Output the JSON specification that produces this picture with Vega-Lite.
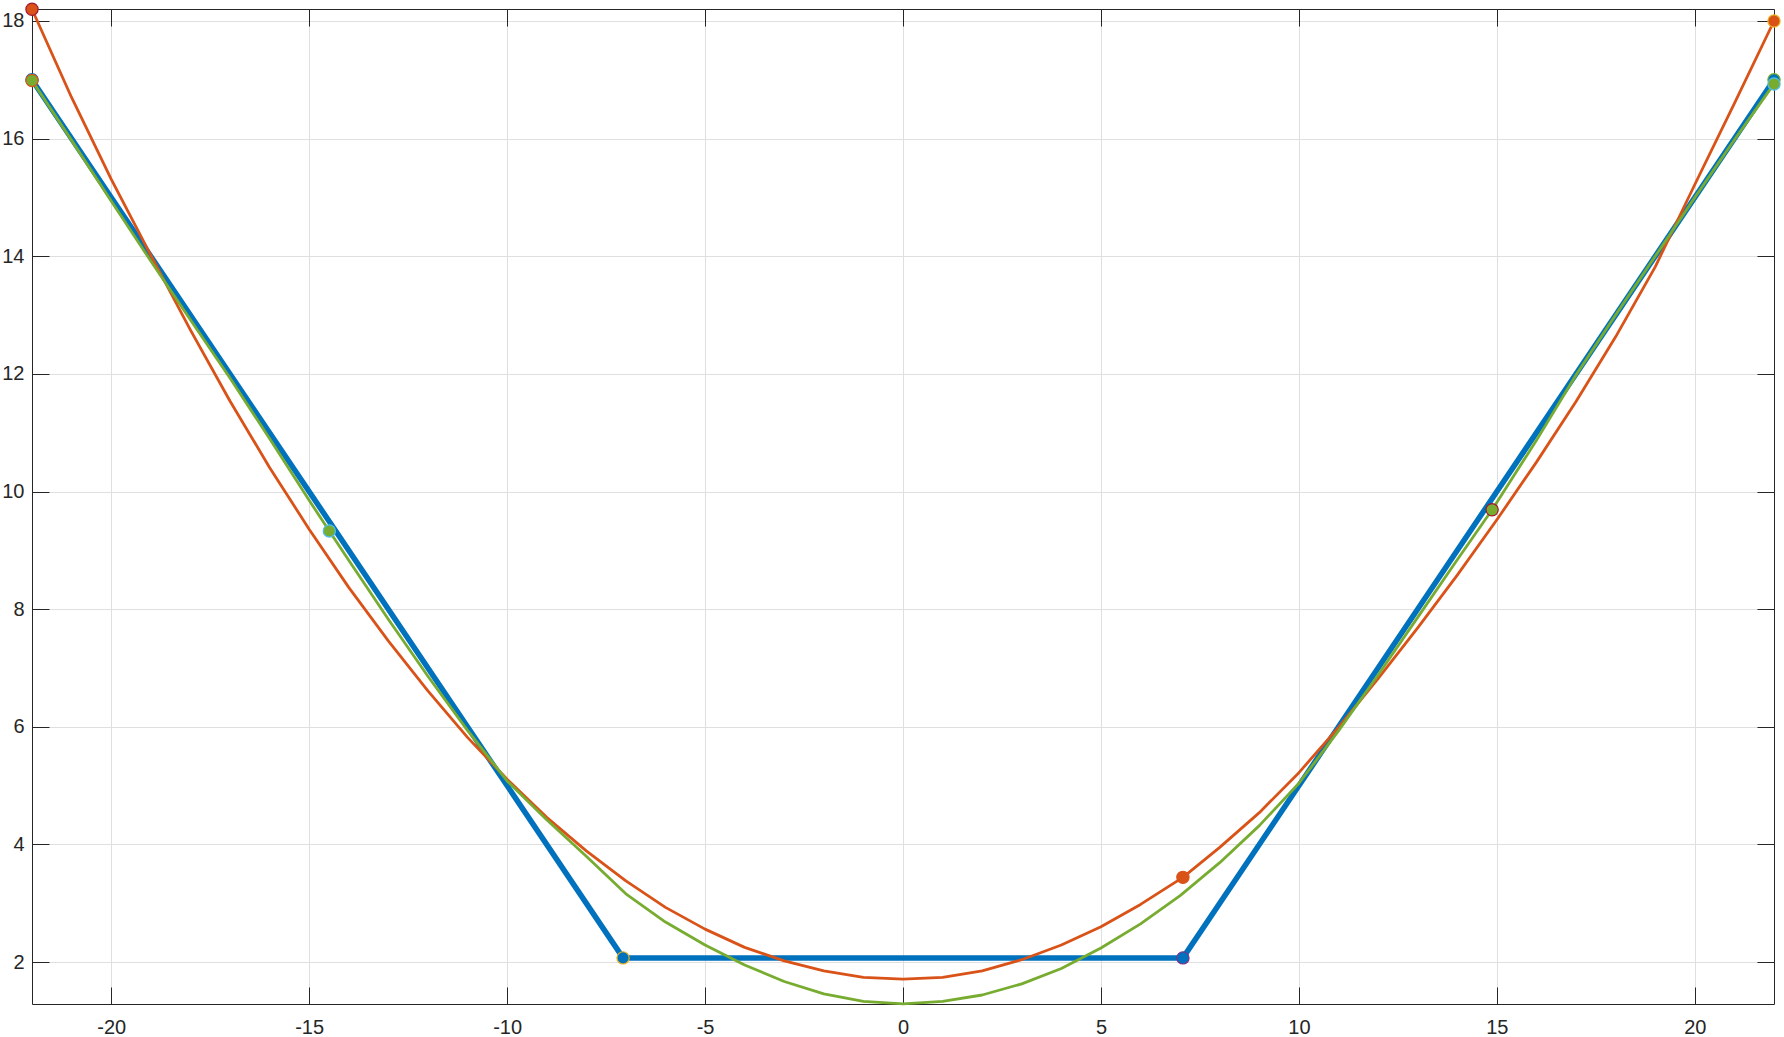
{
  "$schema": "https://vega.github.io/schema/vega-lite/v6.json",
  "width": 1742,
  "height": 995,
  "autosize": {"type": "none"},
  "padding": {"left": 32, "top": 9, "right": 10, "bottom": 33},
  "background": "white",
  "config": {"view": {"stroke": null}, "font": "Liberation Sans"},
  "datasets": {
    "curves": [
      {"s": "blue", "x": -22, "y": 17},
      {"s": "blue", "x": -7.071, "y": 2.071},
      {"s": "blue", "x": 7.071, "y": 2.071},
      {"s": "blue", "x": 22, "y": 17},
      {"s": "red", "x": -22, "y": 18.2},
      {"s": "red", "x": -21, "y": 16.7},
      {"s": "red", "x": -20, "y": 15.31},
      {"s": "red", "x": -19, "y": 14.02},
      {"s": "red", "x": -18, "y": 12.75},
      {"s": "red", "x": -17, "y": 11.54},
      {"s": "red", "x": -16, "y": 10.41},
      {"s": "red", "x": -15, "y": 9.36},
      {"s": "red", "x": -14, "y": 8.37},
      {"s": "red", "x": -13, "y": 7.46},
      {"s": "red", "x": -12, "y": 6.61},
      {"s": "red", "x": -11, "y": 5.82},
      {"s": "red", "x": -10, "y": 5.11},
      {"s": "red", "x": -9, "y": 4.46},
      {"s": "red", "x": -8, "y": 3.89},
      {"s": "red", "x": -7, "y": 3.38},
      {"s": "red", "x": -6, "y": 2.93},
      {"s": "red", "x": -5, "y": 2.56},
      {"s": "red", "x": -4, "y": 2.25},
      {"s": "red", "x": -3, "y": 2.02},
      {"s": "red", "x": -2, "y": 1.85},
      {"s": "red", "x": -1, "y": 1.74},
      {"s": "red", "x": 0, "y": 1.71},
      {"s": "red", "x": 1, "y": 1.74},
      {"s": "red", "x": 2, "y": 1.85},
      {"s": "red", "x": 3, "y": 2.04},
      {"s": "red", "x": 4, "y": 2.29},
      {"s": "red", "x": 5, "y": 2.6},
      {"s": "red", "x": 6, "y": 2.98},
      {"s": "red", "x": 7.07, "y": 3.44},
      {"s": "red", "x": 8, "y": 3.95},
      {"s": "red", "x": 9, "y": 4.54},
      {"s": "red", "x": 10, "y": 5.22},
      {"s": "red", "x": 11, "y": 5.99},
      {"s": "red", "x": 12, "y": 6.82},
      {"s": "red", "x": 13, "y": 7.68},
      {"s": "red", "x": 14, "y": 8.58},
      {"s": "red", "x": 15, "y": 9.52},
      {"s": "red", "x": 16, "y": 10.5},
      {"s": "red", "x": 17, "y": 11.53},
      {"s": "red", "x": 18, "y": 12.63},
      {"s": "red", "x": 19, "y": 13.82},
      {"s": "red", "x": 20, "y": 15.22},
      {"s": "red", "x": 21, "y": 16.6},
      {"s": "red", "x": 22, "y": 18.0},
      {"s": "green", "x": -22, "y": 16.99},
      {"s": "green", "x": -21, "y": 15.97},
      {"s": "green", "x": -20, "y": 14.94},
      {"s": "green", "x": -19, "y": 13.92},
      {"s": "green", "x": -18, "y": 12.92},
      {"s": "green", "x": -17, "y": 11.93},
      {"s": "green", "x": -16, "y": 10.9},
      {"s": "green", "x": -15, "y": 9.85},
      {"s": "green", "x": -14.49, "y": 9.33},
      {"s": "green", "x": -14, "y": 8.83},
      {"s": "green", "x": -13, "y": 7.83},
      {"s": "green", "x": -12, "y": 6.86},
      {"s": "green", "x": -11, "y": 5.94},
      {"s": "green", "x": -10, "y": 5.08},
      {"s": "green", "x": -9, "y": 4.42},
      {"s": "green", "x": -8, "y": 3.8},
      {"s": "green", "x": -7, "y": 3.16},
      {"s": "green", "x": -6, "y": 2.68},
      {"s": "green", "x": -5, "y": 2.29},
      {"s": "green", "x": -4, "y": 1.95},
      {"s": "green", "x": -3, "y": 1.67},
      {"s": "green", "x": -2, "y": 1.46},
      {"s": "green", "x": -1, "y": 1.33},
      {"s": "green", "x": 0, "y": 1.29},
      {"s": "green", "x": 1, "y": 1.33},
      {"s": "green", "x": 2, "y": 1.44},
      {"s": "green", "x": 3, "y": 1.63},
      {"s": "green", "x": 4, "y": 1.89},
      {"s": "green", "x": 5, "y": 2.24},
      {"s": "green", "x": 6, "y": 2.65},
      {"s": "green", "x": 7, "y": 3.13},
      {"s": "green", "x": 8, "y": 3.69},
      {"s": "green", "x": 9, "y": 4.32},
      {"s": "green", "x": 10, "y": 5.04},
      {"s": "green", "x": 11, "y": 5.93},
      {"s": "green", "x": 12, "y": 6.88},
      {"s": "green", "x": 13, "y": 7.86},
      {"s": "green", "x": 14, "y": 8.84},
      {"s": "green", "x": 14.88, "y": 9.69},
      {"s": "green", "x": 16, "y": 10.87},
      {"s": "green", "x": 17, "y": 11.98},
      {"s": "green", "x": 18, "y": 13.0},
      {"s": "green", "x": 19, "y": 14.0},
      {"s": "green", "x": 20, "y": 15.0},
      {"s": "green", "x": 21, "y": 15.98},
      {"s": "green", "x": 22, "y": 16.93}
    ],
    "markers": [
      {"s": "blue", "x": -22, "y": 17, "edge": 1},
      {"s": "blue", "x": -7.071, "y": 2.071, "edge": 3},
      {"s": "blue", "x": 7.071, "y": 2.071, "edge": 4},
      {"s": "blue", "x": 22, "y": 17, "edge": 5},
      {"s": "red", "x": -22, "y": 18.2, "edge": 7},
      {"s": "red", "x": 7.07, "y": 3.44, "edge": 2},
      {"s": "red", "x": 22, "y": 18.0, "edge": 3},
      {"s": "green", "x": -22, "y": 16.99, "edge": 2},
      {"s": "green", "x": -14.49, "y": 9.33, "edge": 6},
      {"s": "green", "x": 14.88, "y": 9.69, "edge": 7},
      {"s": "green", "x": 22, "y": 16.93, "edge": 6}
    ]
  },
  "resolve": {"axis": {"x": "independent", "y": "independent"}},
  "layer": [
    {
      "data": {"name": "curves"},
      "transform": [{"filter": "datum.s === 'blue'"}],
      "mark": {"type": "line", "color": "#0072BD", "strokeWidth": 5.5, "strokeJoin": "round", "strokeCap": "round"},
      "encoding": {
        "x": {"field": "x", "type": "quantitative", "scale": {"domain": [-22, 22], "nice": false, "zero": false},
          "axis": {"orient": "bottom", "values": [-20, -15, -10, -5, 0, 5, 10, 15, 20], "title": null,
            "labelExpr": "datum.value + ''",
            "grid": true, "gridColor": "#dfdfdf", "gridWidth": 1,
            "domain": true, "domainColor": "#262626", "domainWidth": 1,
            "ticks": true, "tickSize": -17, "tickColor": "#262626", "tickWidth": 1,
            "labelFontSize": 20, "labelColor": "#262626", "labelFont": "Liberation Sans", "labelPadding": 30,
            "labelFlush": false, "labelOverlap": false, "zindex": 0}},
        "y": {"field": "y", "type": "quantitative", "scale": {"domain": [1.287, 18.204], "nice": false, "zero": false},
          "axis": {"orient": "left", "values": [2, 4, 6, 8, 10, 12, 14, 16, 18], "title": null,
            "labelExpr": "datum.value + ''",
            "grid": true, "gridColor": "#dfdfdf", "gridWidth": 1,
            "domain": true, "domainColor": "#262626", "domainWidth": 1,
            "ticks": true, "tickSize": -17, "tickColor": "#262626", "tickWidth": 1,
            "labelFontSize": 20, "labelColor": "#262626", "labelFont": "Liberation Sans", "labelPadding": 25,
            "labelFlush": false, "labelOverlap": false, "zindex": 0}}
      }
    },
    {
      "data": {"name": "curves"},
      "transform": [{"filter": "datum.s === 'red'"}],
      "mark": {"type": "line", "color": "#D95319", "strokeWidth": 2.8, "strokeJoin": "round"},
      "encoding": {
        "x": {"field": "x", "type": "quantitative", "scale": {"domain": [-22, 22], "nice": false, "zero": false},
          "axis": {"orient": "top", "values": [-20, -15, -10, -5, 0, 5, 10, 15, 20], "title": null,
            "grid": false, "labels": false, "domain": true, "domainColor": "#262626", "domainWidth": 1,
            "ticks": true, "tickSize": -17, "tickColor": "#262626", "tickWidth": 1, "zindex": 0}},
        "y": {"field": "y", "type": "quantitative", "scale": {"domain": [1.287, 18.204], "nice": false, "zero": false},
          "axis": {"orient": "right", "values": [2, 4, 6, 8, 10, 12, 14, 16, 18], "title": null,
            "grid": false, "labels": false, "domain": true, "domainColor": "#262626", "domainWidth": 1,
            "ticks": true, "tickSize": -17, "tickColor": "#262626", "tickWidth": 1, "zindex": 0}}
      }
    },
    {
      "data": {"name": "curves"},
      "transform": [{"filter": "datum.s === 'green'"}],
      "mark": {"type": "line", "color": "#77AC30", "strokeWidth": 2.8, "strokeJoin": "round"},
      "encoding": {
        "x": {"field": "x", "type": "quantitative", "scale": {"domain": [-22, 22], "nice": false, "zero": false}, "axis": null},
        "y": {"field": "y", "type": "quantitative", "scale": {"domain": [1.287, 18.204], "nice": false, "zero": false}, "axis": null}
      }
    },
    {
      "data": {"name": "markers"},
      "mark": {"type": "circle", "size": 150, "strokeWidth": 1.2, "opacity": 1},
      "encoding": {
        "x": {"field": "x", "type": "quantitative", "scale": {"domain": [-22, 22], "nice": false, "zero": false}, "axis": null},
        "y": {"field": "y", "type": "quantitative", "scale": {"domain": [1.287, 18.204], "nice": false, "zero": false}, "axis": null},
        "fill": {"field": "s", "type": "nominal", "scale": {"domain": ["blue", "red", "green"], "range": ["#0072BD", "#D95319", "#77AC30"]}, "legend": null},
        "stroke": {"field": "edge", "type": "nominal", "scale": {"domain": [1, 2, 3, 4, 5, 6, 7], "range": ["#0072BD", "#D95319", "#EDB120", "#7E2F8E", "#77AC30", "#4DBEEE", "#A2142F"]}, "legend": null}
      }
    }
  ]
}
